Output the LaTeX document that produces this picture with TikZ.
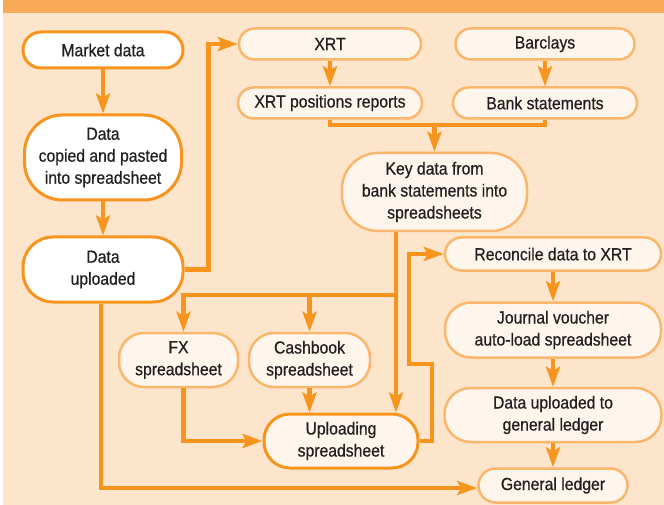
\documentclass[tikz,border=0pt]{standalone}
\usepackage{fontspec}
\setmainfont{Liberation Sans}[FakeStretch=0.9, FakeBold=0.6]
\usetikzlibrary{arrows.meta}
\usetikzlibrary{positioning}
\definecolor{peach}{RGB}{253, 229, 203}
\definecolor{headerorange}{RGB}{248, 170, 88}
\definecolor{lineorange}{RGB}{247, 148, 30}
\definecolor{edgeorange}{RGB}{250, 182, 108}
\definecolor{cream}{RGB}{254, 246, 236}
\definecolor{ink}{RGB}{35, 31, 32}
\newlength{\nodedist}
\setlength{\nodedist}{28pt}
\newlength{\sidedist}
\setlength{\sidedist}{8.5pt}

\begin{document}
\begin{tikzpicture}[x=1pt, y=-1pt,
  >={Stealth[length=20pt, width=14pt, inset=4pt]},
  every node/.style={font=\fontsize{17.5}{22}\selectfont, text=ink, align=center, inner sep=0pt},
  source/.style={rectangle, draw=lineorange, line width=3pt, fill=white},
  procbox/.style={rectangle, draw=edgeorange, line width=2.5pt, fill=cream},
  link/.style={draw=lineorange, line width=4.5pt}]

\useasboundingbox (0,0) rectangle (664,505);
\fill[white] (0,0) rectangle (664,505);
\fill[peach] (3,0) rectangle (664,505);
\fill[headerorange] (3,0) rectangle (664,13);

% market data column
\node[source, minimum width=160pt, minimum height=36pt, rounded corners=18pt](market) at (103,50){Market data};
\node[source, minimum width=157pt, minimum height=85pt, rounded corners=38pt](copied)[below=44pt of market]{Data\\copied and pasted\\into spreadsheet};
\node[source, minimum width=160pt, minimum height=65pt, rounded corners=30pt](uploaded)[below=34pt of copied]{Data\\uploaded};
\draw[link, ->] (market) -- (copied);
\draw[link, ->] (copied) -- (uploaded);

% XRT and Barclays
\node[procbox, minimum width=182pt, minimum height=31pt, rounded corners=15.5pt](xrt) at (330,44){XRT};
\node[procbox, minimum width=184pt, minimum height=31pt, rounded corners=15.5pt](xrtpos)[below=25.5pt of xrt]{XRT positions reports};
\node[procbox, minimum width=179pt, minimum height=31pt, rounded corners=15.5pt](barclays) at (545,44){Barclays};
\node[procbox, minimum width=184pt, minimum height=31pt, rounded corners=15.5pt](bankst)[below=25.5pt of barclays]{Bank statements};
\draw[link, ->] (uploaded.east) -- ++(24,0) |- (xrt.west);
\draw[link, ->] (xrt) -- (xrtpos);
\draw[link, ->] (barclays) -- (bankst);

\node[procbox, minimum width=185pt, minimum height=78pt, rounded corners=36pt](keydata) at (434.5,192){Key data from\\bank statements into\\spreadsheets};
\coordinate (merge) at (keydata.north |- 0,125);
\draw[link] (xrtpos.south) |- (merge) -| (bankst.south);
\draw[link, ->] (merge) -- (keydata.north);

% spreadsheets
\node[procbox, minimum width=119pt, minimum height=54pt, rounded corners=25pt](fx) at (178.5,360){FX\\spreadsheet};
\node[procbox, minimum width=121pt, minimum height=54pt, rounded corners=25pt](cashbook)[right=\sidedist of fx]{Cashbook\\spreadsheet};
\node[rectangle, draw=lineorange, line width=3pt, fill=cream, minimum width=154pt, minimum height=54pt, rounded corners=26pt](uploading) at (341,441){Uploading\\spreadsheet};

\coordinate (drop) at ([xshift=-38.5pt]keydata.south);
\coordinate (split) at (drop |- 0,295);
\draw[link, ->] (drop) -- (drop |- uploading.north);
\draw[link, ->] (split) -| ([xshift=5pt]fx.north);
\draw[link, ->] (split -| cashbook.north) -- (cashbook.north);
\draw[link, ->] ([xshift=5pt]fx.south) |- (uploading.west);
\draw[link, ->] (cashbook.south) -- (cashbook.south |- uploading.north);

% reconcile column
\node[procbox, minimum width=216pt, minimum height=33pt, rounded corners=16.5pt](reconcile) at (553,254){Reconcile data to XRT};
\node[procbox, minimum width=216pt, minimum height=55pt, rounded corners=26pt](journal)[below=29.5pt of reconcile]{Journal voucher\\auto-load spreadsheet};
\node[procbox, minimum width=217pt, minimum height=54pt, rounded corners=26pt](datagl)[below=\nodedist of journal]{Data uploaded to\\general ledger};
\node[procbox, minimum width=149pt, minimum height=34pt, rounded corners=17pt](gledger)[below=24pt of datagl]{General ledger};
\draw[link, ->] (uploading.east) -- ++(12.5,0) -- ++(0,-77) -- ++(-23,0) |- (reconcile.west);
\draw[link, ->] (reconcile) -- (journal);
\draw[link, ->] (journal) -- (datagl);
\draw[link, ->] (datagl) -- (gledger);
\draw[link, ->] ([xshift=-2pt]uploaded.south) |- ([yshift=-2.5pt]gledger.west);

\end{tikzpicture}
\end{document}
